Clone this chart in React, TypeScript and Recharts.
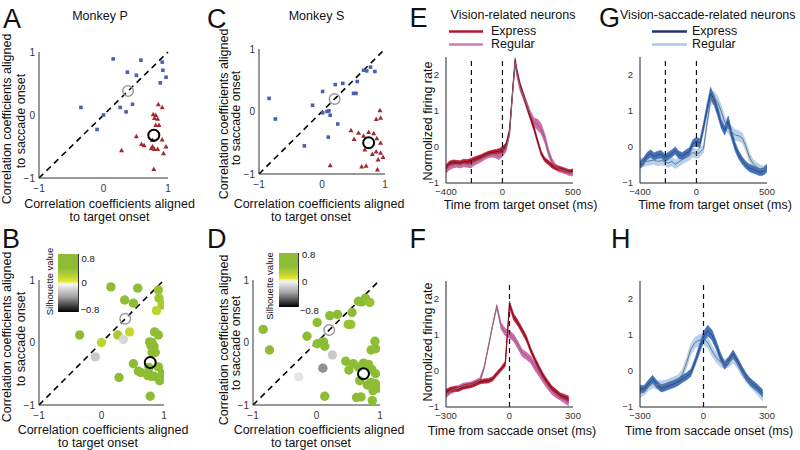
import React from 'react';
import { Area, ComposedChart, Line, ReferenceLine, Scatter, ScatterChart, XAxis, YAxis } from 'recharts';

// correlation coefficients: [aligned to target onset, aligned to saccade onset]
// Monkey P
const pVisSac = [
  [0.15, 0.89], [0.58, 0.87], [0.91, 0.84], [0.37, 0.68], [0.51, 0.63], [0.92, 0.71], [0.97, 0.6],
  [0.88, 0.51], [-0.35, 0.12], [0.26, 0.12], [0.45, 0.17], [0.35, 0.05], [0.0, 0.0], [-0.1, -0.23],
];
const pVis = [
  [0.85, 0.17], [0.91, 0.12], [0.77, 0.01], [0.81, 0.0], [0.79, -0.05], [0.84, -0.06], [0.81, -0.16],
  [0.86, -0.16], [0.51, -0.34], [0.59, -0.46], [0.63, -0.48], [0.76, -0.5], [0.74, -0.53], [0.79, -0.54],
  [0.84, -0.54], [0.91, -0.39], [0.97, -0.5], [0.93, -0.61], [0.28, -0.56], [0.78, -0.86], [0.76, -0.4],
];
const pSilVisSac = [0.6, 0.6, 0.4, 0.6, 0.6, 0.35, 0.3, 0.2, 0.6, 0.3, 0.15, -0.1, 0.2, -0.15];
const pSilVis = [0.6, 0.55, 0.65, 0.6, 0.65, 0.6, 0.55, 0.6, 0.6, 0.65, 0.6, 0.7, 0.6, 0.65, 0.6, 0.55, 0.6, 0.55, 0.6, 0.65, 0.6];
const pCenters = [[0.38, 0.38], [0.78, -0.32]];

// Monkey S
const sVisSac = [
  [-0.84, 0.21], [-0.74, -0.12], [-0.28, -0.55], [-0.15, 0.1], [0.01, 0.32], [0.01, -0.02], [0.08, 0.0],
  [0.11, 0.01], [0.13, -0.06], [0.1, -0.41], [0.21, 0.43], [0.33, 0.45], [0.25, -0.2], [0.5, 0.29],
  [0.54, 0.29], [0.56, 0.48], [0.66, 0.66], [0.71, 0.65], [0.77, 0.71], [0.84, 0.64],
];
const sVis = [
  [0.92, 0.02], [0.86, -0.12], [0.93, -0.1], [0.46, -0.3], [0.58, -0.34], [0.51, -0.44], [0.74, -0.33],
  [0.82, -0.35], [0.66, -0.39], [0.87, -0.43], [0.93, -0.5], [0.68, -0.61], [0.86, -0.64], [0.93, -0.66],
  [0.8, -0.68], [0.89, -0.77], [0.97, -0.73], [0.13, -0.86], [0.63, -0.88], [0.7, -0.87], [0.88, -0.93],
];
const sSilVisSac = [0.6, 0.6, -0.05, 0.55, 0.6, 0.5, 0.55, 0.5, 0.55, -0.35, 0.55, 0.6, -0.15, 0.4, 0.4, 0.55, 0.5, 0.5, 0.45, 0.4];
const sSilVis = [0.6, 0.55, 0.6, 0.6, 0.6, 0.55, 0.6, 0.6, 0.55, 0.6, 0.6, 0.6, 0.55, 0.6, 0.6, 0.55, 0.6, 0.65, 0.6, 0.6, 0.55];
const sCenters = [[0.2, 0.2], [0.74, -0.5]];

// normalized firing rate, aligned to target onset (ms)
const tTarget = [-400, -375, -350, -325, -300, -275, -250, -225, -200, -175, -150, -125, -100, -75, -50, -25, 0, 25, 50, 75, 90, 100, 125, 150, 175, 200, 225, 250, 275, 300, 325, 350, 375, 400, 425, 450, 475, 500];
const visExpT = [-0.55, -0.45, -0.42, -0.43, -0.44, -0.4, -0.41, -0.38, -0.34, -0.3, -0.27, -0.22, -0.18, -0.15, -0.13, -0.12, -0.06, 0.04, 0.45, 1.7, 2.4, 2.15, 1.72, 1.42, 1.1, 0.8, 0.5, 0.15, -0.18, -0.35, -0.43, -0.52, -0.57, -0.6, -0.62, -0.66, -0.68, -0.66];
const visExpTSem = [0.06, 0.06, 0.06, 0.06, 0.06, 0.06, 0.06, 0.06, 0.06, 0.06, 0.06, 0.06, 0.06, 0.06, 0.06, 0.07, 0.07, 0.07, 0.05, 0.05, 0.08, 0.08, 0.07, 0.07, 0.07, 0.07, 0.07, 0.07, 0.06, 0.06, 0.06, 0.06, 0.06, 0.06, 0.05, 0.05, 0.05, 0.05];
const visRegT = [-0.64, -0.55, -0.5, -0.48, -0.5, -0.47, -0.48, -0.5, -0.43, -0.38, -0.33, -0.27, -0.22, -0.2, -0.22, -0.27, -0.18, -0.05, 0.35, 1.65, 2.35, 2.1, 1.65, 1.4, 1.15, 0.88, 0.68, 0.62, 0.5, 0.24, -0.13, -0.4, -0.55, -0.61, -0.64, -0.67, -0.72, -0.72];
const visRegTSem = [0.08, 0.08, 0.08, 0.08, 0.08, 0.08, 0.08, 0.08, 0.08, 0.08, 0.08, 0.08, 0.08, 0.08, 0.08, 0.08, 0.08, 0.08, 0.05, 0.05, 0.08, 0.09, 0.09, 0.09, 0.09, 0.1, 0.12, 0.15, 0.14, 0.12, 0.1, 0.09, 0.08, 0.08, 0.08, 0.08, 0.08, 0.08];

const tTarget2 = [-400, -375, -350, -325, -300, -275, -250, -225, -200, -175, -150, -125, -100, -75, -50, -25, 0, 25, 50, 75, 100, 125, 150, 175, 200, 225, 250, 275, 300, 325, 350, 375, 400, 425, 450, 475, 500];
const vsExpT = [-0.5, -0.4, -0.25, -0.18, -0.26, -0.22, -0.2, -0.3, -0.25, -0.18, -0.1, -0.22, -0.25, -0.18, -0.12, 0.1, 0.15, 0.1, 0.55, 1.05, 1.5, 1.3, 1.0, 0.65, 0.45, 0.72, 0.33, 0.0, -0.22, -0.38, -0.5, -0.58, -0.62, -0.66, -0.7, -0.68, -0.58];
const vsExpTSem = [0.1, 0.1, 0.1, 0.1, 0.1, 0.1, 0.1, 0.1, 0.1, 0.1, 0.1, 0.1, 0.1, 0.1, 0.1, 0.1, 0.12, 0.12, 0.12, 0.14, 0.16, 0.14, 0.13, 0.12, 0.12, 0.14, 0.12, 0.12, 0.11, 0.1, 0.1, 0.1, 0.1, 0.1, 0.1, 0.1, 0.1];
const vsRegT = [-0.45, -0.42, -0.4, -0.38, -0.36, -0.4, -0.38, -0.4, -0.45, -0.4, -0.48, -0.42, -0.35, -0.3, -0.25, -0.15, -0.2, -0.15, -0.05, 0.65, 1.3, 1.38, 1.25, 1.0, 0.7, 0.52, 0.43, 0.33, 0.31, 0.25, 0.02, -0.28, -0.45, -0.55, -0.62, -0.65, -0.6];
const vsRegTSem = [0.12, 0.12, 0.12, 0.12, 0.12, 0.12, 0.12, 0.12, 0.12, 0.12, 0.12, 0.12, 0.12, 0.12, 0.12, 0.12, 0.12, 0.12, 0.1, 0.1, 0.15, 0.16, 0.16, 0.16, 0.15, 0.15, 0.15, 0.15, 0.15, 0.14, 0.13, 0.12, 0.12, 0.12, 0.12, 0.12, 0.12];

// aligned to saccade onset (ms)
const tSaccade = [-300, -280, -260, -240, -220, -200, -180, -160, -140, -120, -100, -80, -60, -40, -20, 0, 20, 40, 60, 80, 100, 120, 140, 160, 180, 200, 220, 240, 260, 280];
const visExpS = [-0.58, -0.52, -0.5, -0.5, -0.45, -0.42, -0.4, -0.35, -0.3, -0.28, -0.27, -0.22, -0.08, 0.05, 0.2, 1.85, 1.5, 1.33, 1.12, 0.9, 0.58, 0.32, 0.08, -0.14, -0.32, -0.48, -0.58, -0.68, -0.72, -0.77];
const visExpSSem = [0.07, 0.07, 0.06, 0.06, 0.06, 0.06, 0.06, 0.06, 0.06, 0.06, 0.06, 0.06, 0.06, 0.06, 0.07, 0.09, 0.09, 0.08, 0.08, 0.08, 0.07, 0.07, 0.07, 0.07, 0.07, 0.07, 0.07, 0.07, 0.07, 0.07];
const visRegS = [-0.65, -0.55, -0.5, -0.48, -0.42, -0.4, -0.38, -0.33, -0.26, 0.09, 0.67, 1.26, 1.8, 1.25, 1.08, 1.02, 0.92, 0.72, 0.5, 0.42, 0.32, 0.12, -0.05, -0.23, -0.4, -0.55, -0.64, -0.72, -0.8, -0.88];
const visRegSSem = [0.09, 0.09, 0.08, 0.08, 0.08, 0.08, 0.08, 0.08, 0.07, 0.04, 0.03, 0.03, 0.05, 0.09, 0.1, 0.1, 0.1, 0.1, 0.1, 0.1, 0.1, 0.1, 0.1, 0.1, 0.1, 0.1, 0.1, 0.09, 0.09, 0.09];
const vsExpS = [-0.5, -0.5, -0.35, -0.22, -0.38, -0.48, -0.45, -0.4, -0.36, -0.3, -0.22, -0.15, -0.05, 0.25, 0.6, 0.95, 1.12, 1.0, 0.72, 0.4, 0.15, 0.3, 0.48, 0.28, 0.05, -0.15, -0.3, -0.4, -0.5, -0.62];
const vsExpSSem = [0.1, 0.1, 0.1, 0.1, 0.1, 0.1, 0.1, 0.1, 0.1, 0.1, 0.1, 0.1, 0.1, 0.1, 0.12, 0.14, 0.15, 0.14, 0.12, 0.11, 0.1, 0.1, 0.1, 0.1, 0.1, 0.1, 0.1, 0.1, 0.1, 0.1];
const vsRegS = [-0.62, -0.55, -0.42, -0.35, -0.38, -0.4, -0.38, -0.32, -0.28, -0.23, -0.09, 0.23, 0.6, 0.79, 0.86, 0.88, 0.79, 0.56, 0.37, 0.25, 0.19, 0.25, 0.35, 0.2, 0.0, -0.18, -0.32, -0.45, -0.58, -0.72];
const vsRegSSem = [0.12, 0.12, 0.12, 0.12, 0.12, 0.12, 0.12, 0.12, 0.12, 0.12, 0.13, 0.14, 0.15, 0.15, 0.15, 0.15, 0.15, 0.14, 0.13, 0.13, 0.13, 0.13, 0.13, 0.12, 0.12, 0.12, 0.12, 0.12, 0.12, 0.12];

const unitTicks = [-1, 0, 1];
const rateTicks = [-1, 0, 1, 2];

const visPal = { expBand: '#b8182f', expLine: '#7c0b1c', regBand: '#c9519f', regLine: '#7d6e77' };
const vsPal = { expBand: '#3d6ab1', expLine: '#2a4d8c', regBand: '#a9c9ea', regLine: '#6e7884' };

const YW = 30;
const XH = 20;
const MT = 4;

const minus = (v: number) => (v < 0 ? `\u2212${Math.abs(v)}` : `${v}`);

function mix(a: string, b: string, t: number) {
  const pa = [1, 3, 5].map((i) => parseInt(a.slice(i, i + 2), 16));
  const pb = [1, 3, 5].map((i) => parseInt(b.slice(i, i + 2), 16));
  const c = pa.map((v, i) => Math.round(v + (pb[i] - v) * t));
  return `rgb(${c[0]},${c[1]},${c[2]})`;
}

function silColor(s: number) {
  if (s >= 0) return mix('#e3e62c', '#8cbd35', Math.min(s / 0.45, 1));
  return mix('#f3f3f3', '#111111', Math.min(-s / 0.8, 1));
}

function frame(px: number, py: number, pw: number, ph: number, mr: number) {
  return {
    style: { position: 'absolute' as const, left: px - YW, top: py - MT },
    width: YW + pw + mr,
    height: MT + ph + XH,
  };
}

const toXY = (pts: number[][], sil?: number[]) => pts.map(([x, y], i) => ({ x, y, s: sil ? sil[i] : 0 }));

function ScatterPanel({ plot, sq, tri, centers, silSq, silTri, colored }: any) {
  const mr = 8;
  const f = frame(plot[0], plot[1], plot[2], plot[3], mr);
  const all = [...toXY(sq, silSq), ...toXY(tri, silTri)];
  return (
    <div style={f.style}>
      <ScatterChart width={f.width} height={f.height} margin={{ top: MT, right: mr, left: 0, bottom: 0 }}>
        <XAxis type="number" dataKey="x" domain={[-1, 1]} ticks={unitTicks} allowDataOverflow interval={0}
          height={XH} tickLine={false} tickSize={5} tickMargin={2} tickFormatter={minus}
          axisLine={{ stroke: '#333' }} tick={{ fontSize: 10, fill: '#333' }} />
        <YAxis type="number" dataKey="y" domain={[-1, 1]} ticks={unitTicks} allowDataOverflow interval={0}
          width={YW} tickLine={false} tickSize={3} tickMargin={1} tickFormatter={minus}
          axisLine={{ stroke: '#333' }} tick={{ fontSize: 10, fill: '#333' }} />
        <ReferenceLine segment={[{ x: -1, y: -1 }, { x: 1, y: 1 }]} stroke="#000" strokeWidth={1.6} strokeDasharray="6 4.5" />
        {colored ? (
          <Scatter data={all} isAnimationActive={false}
            shape={(p: any) => <circle cx={p.cx} cy={p.cy} r={4.7} fill={silColor(p.payload.s)} />} />
        ) : (
          <>
            <Scatter data={toXY(sq)} isAnimationActive={false}
              shape={(p: any) => <rect x={p.cx - 1.8} y={p.cy - 1.8} width={3.6} height={3.6} fill="#4b60b2" />} />
            <Scatter data={toXY(tri)} isAnimationActive={false}
              shape={(p: any) => (
                <polygon points={`${p.cx},${p.cy - 2.6} ${p.cx - 2.5},${p.cy + 1.9} ${p.cx + 2.5},${p.cy + 1.9}`} fill="#a3282f" />
              )} />
          </>
        )}
        <Scatter data={toXY([centers[0]])} isAnimationActive={false}
          shape={(p: any) => <circle cx={p.cx} cy={p.cy} r={5.3} fill="none" stroke="#9a9a9a" strokeWidth={1.5} />} />
        <Scatter data={toXY([centers[1]])} isAnimationActive={false}
          shape={(p: any) => <circle cx={p.cx} cy={p.cy} r={5.5} fill="none" stroke="#000" strokeWidth={2} />} />
      </ScatterChart>
    </div>
  );
}

function TimePanel({ plot, times, exp, expSem, reg, regSem, domain, ticks, marks, pal }: any) {
  const mr = 16;
  const f = frame(plot[0], plot[1], plot[2], plot[3], mr);
  const rows = times.map((t: number, i: number) => ({
    t,
    e: exp[i],
    eb: [exp[i] - expSem[i], exp[i] + expSem[i]],
    r: reg[i],
    rb: [reg[i] - regSem[i], reg[i] + regSem[i]],
  }));
  return (
    <div style={f.style}>
      <ComposedChart width={f.width} height={f.height} data={rows} margin={{ top: MT, right: mr, left: 0, bottom: 0 }}>
        <XAxis type="number" dataKey="t" domain={domain} ticks={ticks} allowDataOverflow interval={0}
          height={XH} tickLine={false} tickSize={4} tickMargin={1} tickFormatter={minus}
          axisLine={{ stroke: '#222' }} tick={{ fontSize: 9.5, fill: '#333' }} />
        <YAxis type="number" domain={[-1, 2.5]} ticks={rateTicks} allowDataOverflow interval={0}
          width={YW} tickLine={false} tickSize={5} tickMargin={2} tickFormatter={minus}
          axisLine={{ stroke: '#222' }} tick={{ fontSize: 9.5, fill: '#333' }} />
        {marks.map((m: number) => (
          <ReferenceLine key={m} x={m} stroke="#111" strokeWidth={1.2} strokeDasharray="5 4" />
        ))}
        <Area type="linear" dataKey="rb" stroke={pal.regBand} strokeWidth={0.6} fill={pal.regBand} fillOpacity={0.85} isAnimationActive={false} />
        <Area type="linear" dataKey="eb" stroke={pal.expBand} strokeWidth={0.6} fill={pal.expBand} fillOpacity={0.95} isAnimationActive={false} />
        <Line type="linear" dataKey="e" stroke={pal.expLine} strokeWidth={1} dot={false} isAnimationActive={false} />
        <Line type="linear" dataKey="r" stroke={pal.regLine} strokeWidth={1} dot={false} isAnimationActive={false} />
      </ComposedChart>
    </div>
  );
}

function ColorBar({ x, y, w, h }: { x: number; y: number; w: number; h: number }) {
  return (
    <div
      style={{
        position: 'absolute',
        left: x,
        top: y,
        width: w,
        height: h,
        borderRight: '1px solid #333',
        background:
          'linear-gradient(to bottom, #8cbd35 0%, #8cbd35 24%, #b9d332 38%, #e3e62c 47%, #f6f6f6 52%, #a0a0a0 74%, #000 100%)',
      }}
    />
  );
}

type Txt = { t: string; x: number; y: number; s: number; a?: 'start' | 'middle' | 'end'; r?: boolean };

const texts: Txt[] = [
  { t: 'A', x: 3, y: 28, s: 27 },
  { t: 'B', x: 2, y: 248, s: 27 },
  { t: 'C', x: 207, y: 28, s: 27 },
  { t: 'D', x: 207, y: 248, s: 27 },
  { t: 'E', x: 409.5, y: 27, s: 27 },
  { t: 'F', x: 409.5, y: 248, s: 27 },
  { t: 'G', x: 599, y: 27, s: 27 },
  { t: 'H', x: 611, y: 248, s: 27 },
  { t: 'Monkey P', x: 100, y: 19.5, s: 12.5, a: 'middle' },
  { t: 'Monkey S', x: 316.5, y: 19.5, s: 12.5, a: 'middle' },
  { t: 'Vision-related neurons', x: 513, y: 18.5, s: 12.5, a: 'middle' },
  { t: 'Express', x: 491, y: 35, s: 12.5 },
  { t: 'Regular', x: 491, y: 48, s: 12.5 },
  { t: 'Vision-saccade-related neurons', x: 620, y: 18.5, s: 12.5 },
  { t: 'Express', x: 692, y: 35, s: 12.5 },
  { t: 'Regular', x: 692, y: 48, s: 12.5 },
  { t: 'Correlation coefficients aligned', x: 109.5, y: 208, s: 12.5, a: 'middle' },
  { t: 'to target onset', x: 109.5, y: 221, s: 12.5, a: 'middle' },
  { t: 'Correlation coefficients aligned', x: 319, y: 208, s: 12.5, a: 'middle' },
  { t: 'to target onset', x: 311, y: 221, s: 12.5, a: 'middle' },
  { t: 'Correlation coefficients aligned', x: 103, y: 433.5, s: 12.5, a: 'middle' },
  { t: 'to target onset', x: 98, y: 446.5, s: 12.5, a: 'middle' },
  { t: 'Correlation coefficients aligned', x: 319, y: 433.5, s: 12.5, a: 'middle' },
  { t: 'to target onset', x: 311, y: 446.5, s: 12.5, a: 'middle' },
  { t: 'Correlation coefficients aligned', x: 11, y: 119, s: 12.5, a: 'middle', r: true },
  { t: 'to saccade onset', x: 25, y: 121, s: 12.5, a: 'middle', r: true },
  { t: 'Correlation coefficients aligned', x: 11, y: 337, s: 12.5, a: 'middle', r: true },
  { t: 'to saccade onset', x: 25, y: 339, s: 12.5, a: 'middle', r: true },
  { t: 'Correlation coefficients aligned', x: 227.5, y: 114, s: 12.5, a: 'middle', r: true },
  { t: 'to saccade onset', x: 240, y: 118, s: 12.5, a: 'middle', r: true },
  { t: 'Correlation coefficients aligned', x: 227.5, y: 340, s: 12.5, a: 'middle', r: true },
  { t: 'to saccade onset', x: 240, y: 343, s: 12.5, a: 'middle', r: true },
  { t: 'Normolized firing rate', x: 432, y: 121, s: 12.5, a: 'middle', r: true },
  { t: 'Normolized firing rate', x: 432, y: 342, s: 12.5, a: 'middle', r: true },
  { t: 'Time from target onset (ms)', x: 520.5, y: 209, s: 12.5, a: 'middle' },
  { t: 'Time from target onset (ms)', x: 715, y: 209, s: 12.5, a: 'middle' },
  { t: 'Time from saccade onset (ms)', x: 512, y: 435, s: 12.5, a: 'middle' },
  { t: 'Time from saccade onset (ms)', x: 709, y: 435, s: 12.5, a: 'middle' },
  { t: '0.8', x: 81.5, y: 261.5, s: 9.5 },
  { t: '0', x: 81.5, y: 285.5, s: 9.5 },
  { t: '\u22120.8', x: 80.5, y: 312.5, s: 9.5 },
  { t: 'Silhouette value', x: 52.5, y: 281.5, s: 9.5, a: 'middle', r: true },
  { t: '0.8', x: 302, y: 258, s: 9.5 },
  { t: '0', x: 302, y: 284.5, s: 9.5 },
  { t: '\u22120.8', x: 300, y: 313.5, s: 9.5 },
  { t: 'Silhouette value', x: 272.5, y: 286, s: 9.5, a: 'middle', r: true },
];

export default function App() {
  return (
    <div
      style={{
        position: 'absolute',
        left: 0,
        top: 0,
        width: 800,
        height: 450,
        overflow: 'hidden',
        background: '#fff',
        fontFamily: 'Arial, "Liberation Sans", Helvetica, sans-serif',
      }}
    >
      <ScatterPanel plot={[39, 52, 129, 126]} sq={pVisSac} tri={pVis} centers={pCenters} />
      <ScatterPanel plot={[259, 49, 126, 125]} sq={sVisSac} tri={sVis} centers={sCenters} />
      <ScatterPanel plot={[39, 280, 125, 125]} sq={pVisSac} tri={pVis} centers={pCenters}
        silSq={pSilVisSac} silTri={pSilVis} colored />
      <ScatterPanel plot={[253, 280, 127, 125]} sq={sVisSac} tri={sVis} centers={sCenters}
        silSq={sSilVisSac} silTri={sSilVis} colored />

      <TimePanel plot={[446, 57, 127, 126]} times={tTarget} exp={visExpT} expSem={visExpTSem} reg={visRegT} regSem={visRegTSem}
        domain={[-400, 500]} ticks={[-400, 0, 500]} marks={[-220, 0]} pal={visPal} />
      <TimePanel plot={[640, 57, 127, 126]} times={tTarget2} exp={vsExpT} expSem={vsExpTSem} reg={vsRegT} regSem={vsRegTSem}
        domain={[-400, 500]} ticks={[-400, 0, 500]} marks={[-220, 0]} pal={vsPal} />
      <TimePanel plot={[446, 281, 127, 126]} times={tSaccade} exp={visExpS} expSem={visExpSSem} reg={visRegS} regSem={visRegSSem}
        domain={[-300, 300]} ticks={[-300, 0, 300]} marks={[0]} pal={visPal} />
      <TimePanel plot={[640, 281, 127, 126]} times={tSaccade} exp={vsExpS} expSem={vsExpSSem} reg={vsRegS} regSem={vsRegSSem}
        domain={[-300, 300]} ticks={[-300, 0, 300]} marks={[0]} pal={vsPal} />

      <ColorBar x={58} y={254} w={20} h={58} />
      <ColorBar x={279} y={253} w={19} h={54} />

      <svg width={800} height={450} style={{ position: 'absolute', left: 0, top: 0, pointerEvents: 'none' }}>
        <line x1={449} x2={483} y1={31.5} y2={31.5} stroke="#b8142c" strokeWidth={2.4} />
        <line x1={449} x2={483} y1={44.5} y2={44.5} stroke="#d27ab8" strokeWidth={2.4} />
        <line x1={652} x2={687} y1={31.5} y2={31.5} stroke="#26326c" strokeWidth={2.4} />
        <line x1={652} x2={687} y1={44.5} y2={44.5} stroke="#a9c9e8" strokeWidth={2.4} />
        {texts.map((d, i) => (
          <text
            key={i}
            x={d.r ? 0 : d.x}
            y={d.r ? 0 : d.y}
            transform={d.r ? `translate(${d.x},${d.y}) rotate(-90)` : undefined}
            fontSize={d.s}
            textAnchor={d.a || 'start'}
            fill="#111"
          >
            {d.t}
          </text>
        ))}
      </svg>
    </div>
  );
}
